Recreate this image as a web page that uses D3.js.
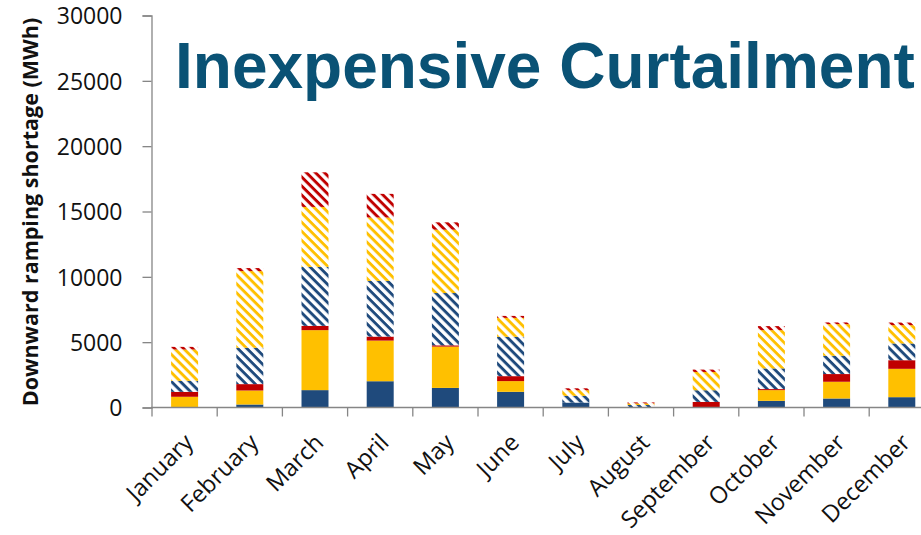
<!DOCTYPE html>
<html><head><meta charset="utf-8">
<script src="https://cdn.jsdelivr.net/npm/d3@7"></script>
<style>html,body{margin:0;padding:0;background:#fff;overflow:hidden}</style>
</head><body>
<svg id="chart" width="921" height="535"></svg>
<script>
const months = ["January","February","March","April","May","June","July","August","September","October","November","December"];
const solidBlue    = [0, 230, 1330, 2010, 1500, 1200, 380, 0, 0, 510, 690, 790];
const solidYellow  = [820, 1070, 4590, 3110, 3160, 820, 0, 0, 0, 820, 1280, 2170];
const solidRed     = [380, 490, 330, 310, 100, 380, 0, 0, 430, 80, 590, 660];
const hatchBlue    = [840, 2780, 4510, 4260, 4000, 3010, 510, 190, 890, 1580, 1400, 1280];
const hatchYellow  = [2400, 5870, 4590, 4850, 4850, 1450, 430, 120, 1400, 2930, 2420, 1400];
const hatchRed     = [200, 230, 2650, 1810, 560, 150, 150, 80, 180, 310, 130, 200];
const yTicks = [0, 5000, 10000, 15000, 20000, 25000, 30000];
const title = "Inexpensive Curtailment";
const yTitle = "Downward ramping shortage (MWh)";

const BLUE = "#1F4A7C", YELLOW = "#FFC000", RED = "#C00000";
const seriesDefs = [
  {key:"sb", vals: solidBlue, color: BLUE, hatch:false},
  {key:"sy", vals: solidYellow, color: YELLOW, hatch:false},
  {key:"sr", vals: solidRed, color: RED, hatch:false},
  {key:"hb", vals: hatchBlue, color: BLUE, hatch:true},
  {key:"hy", vals: hatchYellow, color: YELLOW, hatch:true},
  {key:"hr", vals: hatchRed, color: RED, hatch:true}
];
const table = months.map((m,i)=>{const o={month:m}; seriesDefs.forEach(s=>o[s.key]=s.vals[i]); return o;});
const stack = d3.stack().keys(seriesDefs.map(s=>s.key))(table);

const svg = d3.select("#chart");
const x0 = 152, bandW = 65.2;
const x = d3.scaleBand().domain(months).range([x0, x0 + 12*bandW]).paddingInner(0.586).paddingOuter(0.293);
const y = d3.scaleLinear().domain([0, 30000]).range([407.5, 15.5]);

const defs = svg.append("defs");
seriesDefs.filter(s=>s.hatch).forEach(s=>{
  const p = defs.append("pattern").attr("id","pat-"+s.key).attr("patternUnits","userSpaceOnUse")
    .attr("width",10).attr("height",6.4).attr("patternTransform","rotate(45)");
  p.append("rect").attr("width",10).attr("height",6.4).attr("fill","#fff");
  p.append("rect").attr("y",0).attr("width",10).attr("height",2.9).attr("fill",s.color);
});

// bars
stack.forEach((layer, li)=>{
  const s = seriesDefs[li];
  svg.append("g").selectAll("rect").data(layer).join("rect")
    .attr("x", d=>x(d.data.month))
    .attr("width", x.bandwidth())
    .attr("y", d=>y(d[1]))
    .attr("height", d=>Math.max(0, y(d[0]) - y(d[1])))
    .attr("fill", s.hatch ? `url(#pat-${s.key})` : s.color);
});

const axisColor = "#868686";
// y axis
const yAxis = svg.append("g").attr("transform","translate(151.5,0)")
  .call(d3.axisLeft(y).tickValues(yTicks).tickSize(9).tickPadding(20).tickFormat(d3.format("d")));
yAxis.select(".domain").attr("stroke",axisColor).attr("stroke-width",1.3);
yAxis.selectAll(".tick line").attr("stroke",axisColor).attr("stroke-width",1.3);
yAxis.selectAll(".tick text").attr("font-family","'Open Sans', sans-serif").attr("font-size","23px").attr("fill","#111").attr("dy","0.36em");

// x axis
const xAxis = svg.append("g").attr("transform","translate(0,407.5)");
xAxis.append("line").attr("x1",151).attr("x2",921).attr("y1",0).attr("y2",0).attr("stroke",axisColor).attr("stroke-width",1.3);
const edges = d3.range(0, 13).map(i=> i < 12 ? x(months[i]) - x.step()*x.paddingOuter() : x(months[11]) - x.step()*x.paddingOuter() + x.step());
xAxis.selectAll("line.tk").data(edges).join("line").attr("class","tk")
  .attr("x1",d=>d).attr("x2",d=>d).attr("y1",0).attr("y2",9).attr("stroke",axisColor).attr("stroke-width",1.3);
xAxis.selectAll("text").data(months).join("text")
  .attr("transform", d=>`translate(${x(d)+x.bandwidth()/2+10},${444-407.5}) rotate(-45)`)
  .attr("text-anchor","end")
  .attr("font-family","'Open Sans', sans-serif").attr("font-size","23.5px").attr("fill","#111")
  .text(d=>d);

// y title
svg.append("text").attr("transform","translate(38,212) rotate(-90)")
  .attr("text-anchor","middle").attr("font-family","'Open Sans', sans-serif").attr("font-weight","bold")
  .attr("font-size","21.5px").attr("fill","#111").text(yTitle);

// title
svg.append("text").attr("x",175).attr("y",88)
  .attr("font-family","'Liberation Sans', Arial, sans-serif").attr("font-weight","bold")
  .attr("font-size","64px").attr("fill","#0A5275").text(title);
</script>
</body></html>
